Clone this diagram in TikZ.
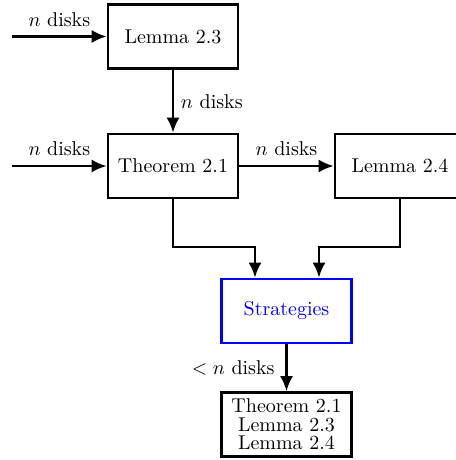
\documentclass[tikz,border=0pt]{standalone}
\usetikzlibrary{arrows.meta}
\tikzset{
	blk/.style={draw, line width=1.3pt, minimum width=65pt, minimum height=32pt, inner sep=2pt},
	arr/.style={line width=1.3pt, -{Latex[length=7.5pt,width=6.5pt]}},
}
\begin{document}
\begin{tikzpicture}[x=0.5pt, y=0.5pt]
	\useasboundingbox (0,0) rectangle (455,460);
	\def\ya{423.5};
	\def\yb{294};
	\def\yc{213};
	% boxes
	\node[blk] (lemA) at (173,\ya) {Lemma 2.3};
	\node[blk] (thm) at (173,\yb) {Theorem 2.1};
	\node[blk] (lemB) at (400,\yb) {Lemma 2.4};
	\node[blk, draw=blue, text=blue] (strat) at (286.5,149) {Strategies};
	\node[blk, align=center] (res) at (286.5,35.5) {Theorem 2.1\\[-2.7pt]Lemma 2.3\\[-2.7pt]Lemma 2.4};
	\coordinate (inA) at (12,\ya);
	\coordinate (inB) at (12,\yb);
	\coordinate (jA) at (255,\yc);
	\coordinate (jB) at (319,\yc);
	% connectors
	\draw[arr] (inA) -- node[above, yshift=1pt]{$n$ disks} (lemA);
	\draw[arr] (inB) -- node[above, yshift=1pt]{$n$ disks} (thm);
	\draw[arr] (lemA) -- node[right]{$n$ disks} (thm);
	\draw[arr] (thm) -- node[above, yshift=1pt]{$n$ disks} (lemB);
	\draw[arr] (thm.south) |- (jA) -- (jA |- strat.north);
	\draw[arr] (lemB.south) |- (jB) -- (jB |- strat.north);
	\draw[arr] (strat) -- node[left, xshift=-2pt]{$<n$ disks} (res);
\end{tikzpicture}
\end{document}
